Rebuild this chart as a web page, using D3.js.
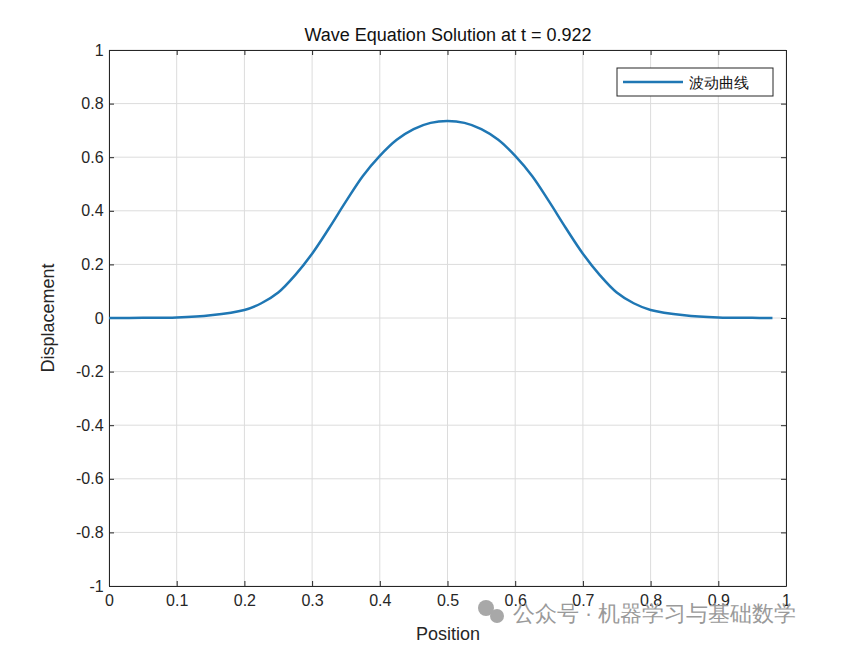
<!DOCTYPE html>
<html><head><meta charset="utf-8">
<script src="https://cdn.jsdelivr.net/npm/d3@7"></script>
<style>body{margin:0;background:#fff}text{font-family:Arial,"Liberation Sans",sans-serif}</style>
</head><body><svg id="c" width="848" height="649"></svg>
<script>
// curve values
const posX = [0,0.05,0.1,0.15,0.2,0.225,0.25,0.275,0.3,0.325,0.35,0.375,0.4,0.425,0.45,0.475,0.5,0.525,0.55,0.575,0.6,0.625,0.65,0.675,0.7,0.725,0.75,0.775,0.8,0.85,0.9,0.95,0.98];
const dispY = [0,0.0005,0.002,0.01,0.03,0.055,0.095,0.16,0.24,0.335,0.435,0.53,0.605,0.665,0.705,0.728,0.735,0.728,0.705,0.665,0.605,0.53,0.435,0.335,0.24,0.16,0.095,0.055,0.03,0.01,0.002,0.0005,0];
const xTicks = [0,0.1,0.2,0.3,0.4,0.5,0.6,0.7,0.8,0.9,1];
const yTicks = [-1,-0.8,-0.6,-0.4,-0.2,0,0.2,0.4,0.6,0.8,1];

const svg = d3.select("#c");
const L=109,R=786,T=50,B=586;
const x = d3.scaleLinear().domain([0,1]).range([L,R]);
const y = d3.scaleLinear().domain([-1,1]).range([B,T]);
const fmt = d => String(d);

svg.append("rect").attr("x",L).attr("y",T).attr("width",R-L).attr("height",B-T).attr("fill","#fff");
const g = svg.append("g").attr("stroke","#dcdcdc").attr("stroke-width",1);
xTicks.forEach(t=>g.append("line").attr("x1",x(t)).attr("x2",x(t)).attr("y1",T).attr("y2",B));
yTicks.forEach(t=>g.append("line").attr("y1",y(t)).attr("y2",y(t)).attr("x1",L).attr("x2",R));

const ax = svg.append("g").attr("transform",`translate(0,${B})`)
  .call(d3.axisBottom(x).tickValues(xTicks).tickFormat(fmt).tickSizeInner(-5).tickSizeOuter(0));
const ay = svg.append("g").attr("transform",`translate(${L},0)`)
  .call(d3.axisLeft(y).tickValues(yTicks).tickFormat(fmt).tickSizeInner(-5).tickSizeOuter(0));
svg.append("g").attr("transform",`translate(0,${T})`).call(d3.axisTop(x).tickValues(xTicks).tickFormat("").tickSizeInner(-5).tickSizeOuter(0));
svg.append("g").attr("transform",`translate(${R},0)`).call(d3.axisRight(y).tickValues(yTicks).tickFormat("").tickSizeInner(-5).tickSizeOuter(0));
svg.selectAll(".domain,.tick line").attr("stroke","#262626");
svg.selectAll(".tick text").attr("font-size",16).attr("fill","#262626");
ax.selectAll(".tick text").attr("dy","1.05em");
ay.selectAll(".tick text").attr("dx","-0.15em");

svg.append("path").datum(posX.map((v,i)=>[v,dispY[i]]))
  .attr("fill","none").attr("stroke","#1f77b4").attr("stroke-width",2.5)
  .attr("d",d3.line().x(d=>x(d[0])).y(d=>y(d[1])).curve(d3.curveCatmullRom));

svg.append("text").attr("x",448).attr("y",41).attr("text-anchor","middle").attr("font-size",18).attr("fill","#111").text("Wave Equation Solution at t = 0.922");
svg.append("text").attr("x",448).attr("y",640).attr("text-anchor","middle").attr("font-size",18).attr("fill","#262626").text("Position");
svg.append("text").attr("transform","translate(54,318) rotate(-90)").attr("text-anchor","middle").attr("font-size",18).attr("fill","#262626").text("Displacement");

svg.append("rect").attr("x",617).attr("y",68).attr("width",156).attr("height",28).attr("fill","#fff").attr("stroke","#262626");
svg.append("line").attr("x1",623).attr("x2",683).attr("y1",82).attr("y2",82).attr("stroke","#1f77b4").attr("stroke-width",2.5);
svg.append("text").attr("x",689).attr("y",88).attr("font-size",15).attr("font-family","Noto Sans CJK SC").attr("fill","#111").text("波动曲线");

const wm = svg.append("g").attr("fill","#9a9a9a");
wm.append("circle").attr("cx",486).attr("cy",608).attr("r",8).attr("fill","#a8a8a8");
wm.append("circle").attr("cx",497).attr("cy",616).attr("r",7).attr("fill","#a8a8a8");
wm.append("text").attr("x",513).attr("y",621).attr("font-size",21.5).attr("font-family","Noto Sans CJK SC").text("公众号 · 机器学习与基础数学");
</script></body></html>
